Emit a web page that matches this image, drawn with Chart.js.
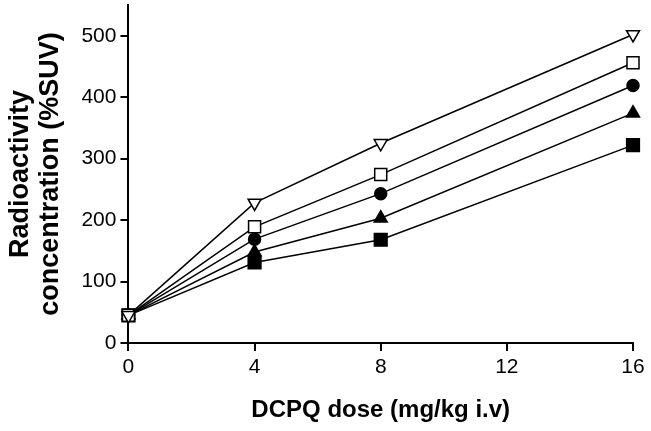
<!DOCTYPE html>
<html>
<head>
<meta charset="utf-8">
<script src="https://cdn.jsdelivr.net/npm/chart.js@4"></script>
<style>
  html, body { margin: 0; padding: 0; background: #fff; }
  #wrap { width: 651px; height: 431px; }
</style>
</head>
<body>
<div id="wrap"><canvas id="chart" width="651" height="431"></canvas></div>
<script>
// dose (mg/kg i.v) on x, %SUV on y
const doses = [0, 4, 8, 16];
const openTriDown = [45, 228, 325, 502];
const openSquare = [45, 189, 274, 456];
const filledCircle = [45, 169, 243, 419];
const filledTriangle = [45, 148, 203, 374];
const filledSquare = [45, 131, 168, 322];
const yTicks = [0, 100, 200, 300, 400, 500];
const xTicks = [0, 4, 8, 12, 16];

const pts = (vals) => doses.map((d, i) => ({ x: d, y: vals[i] }));

const series = [
  { data: openTriDown, style: 'triangle', rot: 180, r: 7.5, fill: '#fff' },
  { data: openSquare, style: 'rect', rot: 0, r: 8.5, fill: '#fff' },
  { data: filledCircle, style: 'circle', rot: 0, r: 6, fill: '#000' },
  { data: filledTriangle, style: 'triangle', rot: 0, r: 7.5, fill: '#000' },
  { data: filledSquare, style: 'rect', rot: 0, r: 9, fill: '#000' }
];

const font = 'Liberation Sans, Arial, sans-serif';

new Chart(document.getElementById('chart').getContext('2d'), {
  type: 'line',
  data: {
    datasets: series.map(s => ({
      data: pts(s.data),
      borderColor: '#000',
      borderWidth: 1.5,
      pointStyle: s.style,
      pointRotation: s.rot,
      pointRadius: s.r,
      pointBackgroundColor: s.fill,
      pointBorderColor: '#000',
      pointBorderWidth: 1.5,
      fill: false,
      clip: false,
      tension: 0
    }))
  },
  options: {
    responsive: false,
    animation: false,
    layout: { autoPadding: false, padding: { top: 5, right: 18, left: 6, bottom: 6 } },
    plugins: { legend: { display: false }, tooltip: { enabled: false } },
    scales: {
      x: {
        type: 'linear',
        min: 0,
        max: 16,
        afterBuildTicks: (scale) => { scale.ticks = xTicks.map(v => ({ value: v })); },
        grid: { drawOnChartArea: false, drawTicks: true, tickLength: 8, color: '#000', lineWidth: 2 },
        border: { color: '#000', width: 2 },
        ticks: { color: '#000', font: { family: font, size: 21 }, padding: 4, maxRotation: 0 },
        title: {
          display: true,
          text: 'DCPQ dose (mg/kg i.v)',
          color: '#000',
          font: { family: font, size: 24, weight: 'bold' },
          padding: { top: 12, bottom: 0 }
        }
      },
      y: {
        min: 0,
        max: 550,
        afterBuildTicks: (scale) => { scale.ticks = yTicks.map(v => ({ value: v })); },
        // no label sits at the top of the axis, so no extra room is needed there
        afterFit: (scale) => { scale.paddingTop = 0; },
        grid: { drawOnChartArea: false, drawTicks: true, tickLength: 8, color: '#000', lineWidth: 2 },
        border: { color: '#000', width: 2 },
        ticks: { color: '#000', font: { family: font, size: 21 }, padding: 4 },
        title: {
          display: true,
          text: ['Radioactivity', 'concentration (%SUV)'],
          color: '#000',
          font: { family: font, size: 27, weight: 'bold', lineHeight: 1.1 },
          padding: { top: 0, bottom: 12 }
        }
      }
    }
  }
});
</script>
</body>
</html>
